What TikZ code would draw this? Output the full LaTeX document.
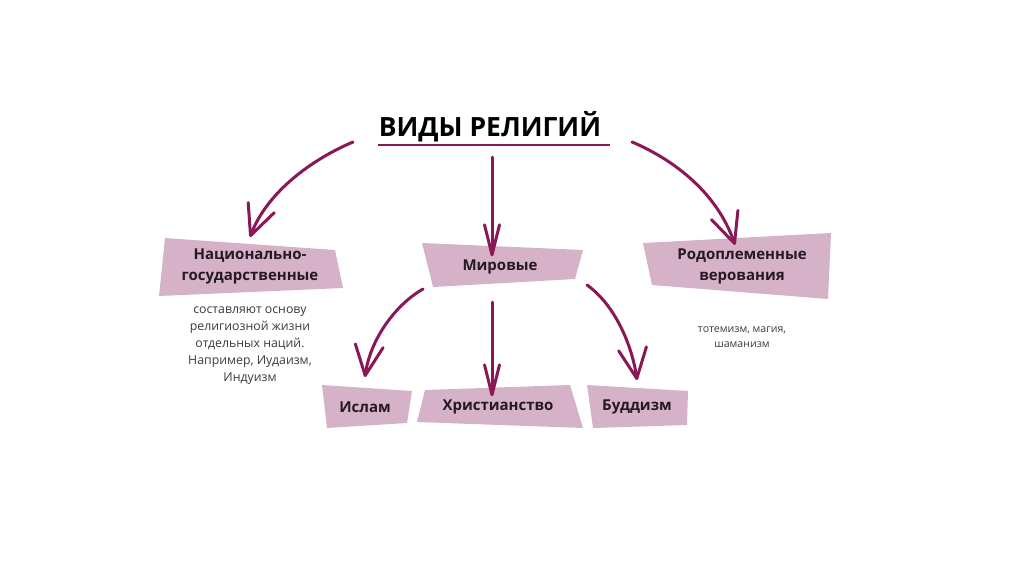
\documentclass[tikz,border=0pt]{standalone}
\usepackage{fontspec}
\setmainfont{Open Sans}
\usepackage{xcolor}
\usepackage{tikz}
\usetikzlibrary{arrows.meta,positioning,calc}
\definecolor{relpink}{RGB}{213,178,200}
\definecolor{relplum}{RGB}{139,24,86}
\definecolor{reltext}{RGB}{38,26,34}
\definecolor{relgray}{RGB}{62,58,60}

\begin{document}
\begin{tikzpicture}[x=1pt,y=-1pt,
  boxlbl/.style={font=\fontsize{15}{21}\selectfont\bfseries,text=reltext,align=center},
  desc/.style={font=\fontsize{12.3}{17}\selectfont,text=relgray,align=center},
  rarrow/.style={relplum,line width=3pt,line cap=round,-{Straight Barb[length=30pt,width=28pt,round]}},
  sarrow/.style={relplum,line width=3pt,line cap=round,-{Straight Barb[length=30pt,width=15pt,round]}}]
\useasboundingbox[fill=white] (0,0) rectangle (1024,574);
% pink boxes
\fill[relpink] (165,238) -- (335,250) -- (343,288) -- (159,296) -- cycle;
\fill[relpink] (422,243) -- (583,250) -- (575,279) -- (433,287) -- cycle;
\fill[relpink] (643,243) -- (831,233) -- (828,299) -- (652,285) -- cycle;
\fill[relpink] (322,385) -- (412,391) -- (407,423) -- (327,428) -- cycle;
\fill[relpink] (425,390) -- (570,385) -- (583,428) -- (417,422) -- cycle;
\fill[relpink] (587,385) -- (688,391) -- (687,425) -- (593,428) -- cycle;
% title
\node[font=\fontsize{26.5}{32}\selectfont\bfseries,text=black] (title) at (490,127) {ВИДЫ РЕЛИГИЙ};
\draw[relplum,line width=2.5pt] (378,145) -- (610,145);
% labels
\node[boxlbl] (nat) at (250,266) {Национально-\\государственные};
\node[boxlbl] (world) at (500,267) {Мировые};
\node[boxlbl] (tribal) at (742,266) {Родоплеменные\\верования};
\node[boxlbl] (islam) at (365,407) {Ислам};
\node[boxlbl] (christ) at (498,407) {Христианство};
\node[boxlbl] (budd) at (637,407) {Буддизм};
\node[desc,below=16pt of nat] (natdesc) {составляют основу\\религиозной жизни\\отдельных наций.\\Например, Иудаизм,\\Индуизм};
\node[desc,font=\fontsize{10.6}{14.5}\selectfont] (tribdesc) at (742,337) {тотемизм, магия,\\шаманизм};
% arrow ends
\coordinate (tL) at (353,142);
\coordinate (tM) at (492,157);
\coordinate (tR) at (632,142);
\coordinate (wL) at (423,289);
\coordinate (wM) at (492,302);
\coordinate (wR) at (587,285);
\draw[rarrow] (tL) .. controls (315,158) and (268,190) .. (nat.north |- 0,237);
\draw[sarrow] (tM) -- (world.north -| tM);
\draw[rarrow] (tR) .. controls (670,158) and (716,190) .. (tribal.north -| 735,0);
\draw[rarrow] (wL) .. controls (395,305) and (370,340) .. (islam.north |- 0,377);
\draw[sarrow] (wM) -- (christ.north -| wM);
\draw[rarrow] (wR) .. controls (615,305) and (632,345) .. (budd.north |- 0,380);
\end{tikzpicture}
\end{document}
